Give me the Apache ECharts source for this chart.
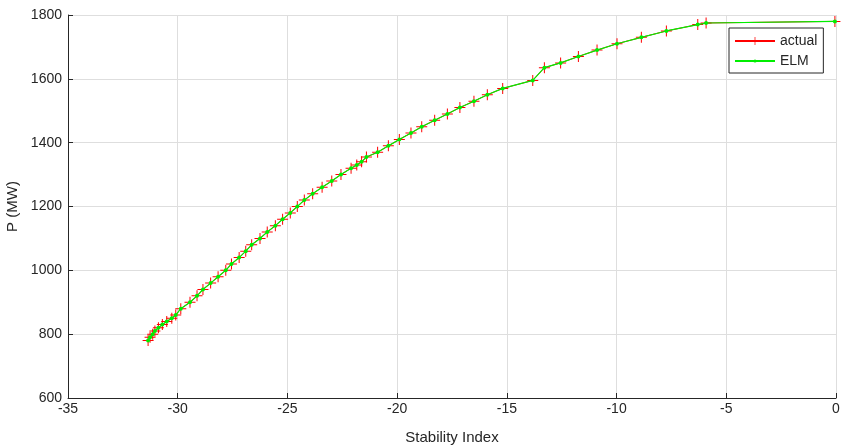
<!DOCTYPE html>
<html>
<head>
<meta charset="utf-8">
<script src="https://cdn.jsdelivr.net/npm/echarts@6/dist/echarts.min.js"></script>
<style>
  html, body { margin: 0; padding: 0; background: #fff; }
  #chart { width: 841px; height: 447px; }
</style>
</head>
<body>
<div id="chart"></div>
<script>
// stability index (x) and power P in MW (y)
const actualIndex = [
    -31.35, -31.26, -31.14, -31.04, -30.88, -30.70, -30.50, -30.27, -30.09, -29.86,
    -29.44, -29.12, -28.85, -28.50, -28.16, -27.81, -27.55, -27.20, -26.90, -26.63,
    -26.25, -25.92, -25.55, -25.22, -24.87, -24.55, -24.23, -23.85, -23.42, -22.98,
    -22.56, -22.10, -21.84, -21.62, -21.40, -20.89, -20.40, -19.90, -19.37, -18.88,
    -18.29, -17.71, -17.14, -16.50, -15.89, -15.19, -13.82, -13.29, -12.55, -11.74,
    -10.89, -9.98, -8.87, -7.73, -6.30, -5.92, -0.05
];
const actualPower = [
    780, 790, 800, 810, 820, 830, 840, 850, 860, 880,
    900, 920, 940, 960, 980, 1000, 1020, 1040, 1060, 1080,
    1100, 1120, 1140, 1160, 1180, 1200, 1220, 1240, 1260, 1280,
    1300, 1320, 1330, 1340, 1355, 1370, 1390, 1410, 1430, 1450,
    1470, 1490, 1510, 1530, 1550, 1570, 1595, 1635, 1650, 1670,
    1690, 1710, 1730, 1750, 1770, 1775, 1780
];
// ELM prediction sits on top of the actual curve
const elmIndex = actualIndex.slice();
const elmPower = actualPower.slice();

const xTicks = { min: -35, max: 0, interval: 5 };
const yTicks = { min: 600, max: 1800, interval: 200 };

const font = "Liberation Sans";
const textColor = "#262626";
const plus = "path://M5,0h1v5h5v1h-5v5h-1v-5h-5v-1h5z";
// small dot inside a 10x10 box so it stays small in the legend too
const dot = "path://M0,0M10,10M3,5a2,2 0 1,0 4,0a2,2 0 1,0 -4,0z";

function pairs(xs, ys) {
    return xs.map((x, i) => [x, ys[i]]);
}

const chart = echarts.init(document.getElementById("chart"));

const axisCommon = {
    axisLine: { show: true, onZero: false, lineStyle: { color: textColor, width: 1 } },
    axisTick: { show: true, inside: true, length: 5, lineStyle: { color: textColor } },
    axisLabel: { color: textColor, fontFamily: font, fontSize: 14 },
    splitLine: { show: true, lineStyle: { color: "#dedede", width: 1 } },
    nameLocation: "middle",
    nameTextStyle: { color: textColor, fontFamily: font, fontSize: 15 },
};

chart.setOption({
    animation: false,
    backgroundColor: "#fff",
    grid: { left: 68, right: 5, top: 15, bottom: 49, containLabel: false, outerBoundsMode: "none" },
    xAxis: Object.assign({}, axisCommon, {
        type: "value",
        min: xTicks.min,
        max: xTicks.max,
        interval: xTicks.interval,
        name: "Stability Index",
        nameGap: 32,
        axisLabel: Object.assign({}, axisCommon.axisLabel, { margin: 4 }),
    }),
    yAxis: Object.assign({}, axisCommon, {
        type: "value",
        min: yTicks.min,
        max: yTicks.max,
        interval: yTicks.interval,
        name: "P (MW)",
        nameGap: 48,
        axisLabel: Object.assign({}, axisCommon.axisLabel, {
            margin: 6,
            formatter: (v) => String(v),
        }),
    }),
    legend: {
        orient: "vertical",
        left: 729,
        top: 28,
        itemWidth: 40,
        itemHeight: 10,
        itemGap: 6,
        padding: [6, 6, 5, 5],
        borderColor: textColor,
        borderWidth: 1,
        borderRadius: 0,
        backgroundColor: "#fff",
        textStyle: { color: textColor, fontFamily: font, fontSize: 14 },
        data: ["actual", "ELM"],
    },
    series: [
        {
            name: "actual",
            type: "line",
            data: pairs(actualIndex, actualPower),
            symbol: plus,
            symbolSize: 11,
            showAllSymbol: true,
            lineStyle: { color: "#ff0000", width: 1 },
            itemStyle: { color: "#ff0000" },
            z: 2,
        },
        {
            name: "ELM",
            type: "line",
            data: pairs(elmIndex, elmPower),
            symbol: dot,
            symbolSize: 10,
            showAllSymbol: true,
            lineStyle: { color: "#00ee00", width: 1.2 },
            itemStyle: { color: "#00ee00" },
            z: 3,
        },
    ],
});
</script>
</body>
</html>
